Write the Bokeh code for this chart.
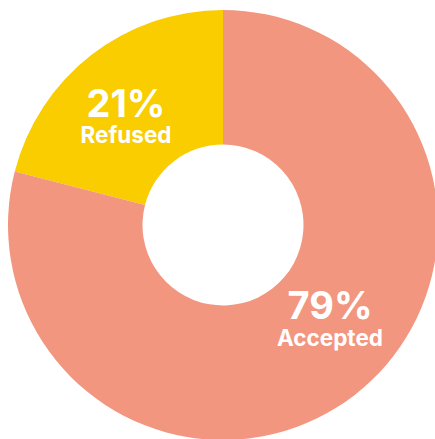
import math
from bokeh.plotting import figure
from bokeh.models import ColumnDataSource
from bokeh.core.properties import value
from bokeh.embed import file_html
from bokeh.resources import INLINE

# Data
categories = ["Refused", "Accepted"]
shares = [21, 79]
colors = ["#F9CD00", "#F2967F"]
pct_labels = ["21%", "79%"]

# Label anchor positions (data units = px, centre of donut at 0,0)
label_x = [-97, 107]
pct_y = [122, -79.5]
name_y = [90.5, -112]

total = sum(shares)
starts, ends = [], []
acc = math.pi / 2
for s in shares:
    starts.append(acc)
    acc += 2 * math.pi * s / total
    ends.append(acc)

src = ColumnDataSource(dict(cat=categories, share=shares, color=colors,
                            start=starts, end=ends))

p = figure(width=435, height=439, x_range=(-222.5, 212.5), y_range=(-214.5, 224.5),
           output_backend="svg", toolbar_location=None, min_border=0,
           match_aspect=False)
p.axis.visible = False
p.grid.visible = False
p.outline_line_color = None
p.background_fill_color = "white"
p.border_fill_color = "white"

p.annular_wedge(x=0, y=0, inner_radius=80.5, outer_radius=215,
                start_angle="start", end_angle="end", color="color",
                line_color=None, source=src)

p.text(x=label_x, y=pct_y, text=pct_labels, text_color="white",
       text_font=value("Inter"), text_font_style="bold", text_font_size="38px",
       text_align="center", text_baseline="alphabetic")
p.text(x=label_x, y=name_y, text=categories, text_color="white",
       text_font=value("Inter"), text_font_style="bold", text_font_size="22.5px",
       text_align="center", text_baseline="alphabetic")

open("out.html", "w").write(file_html(p, INLINE))
